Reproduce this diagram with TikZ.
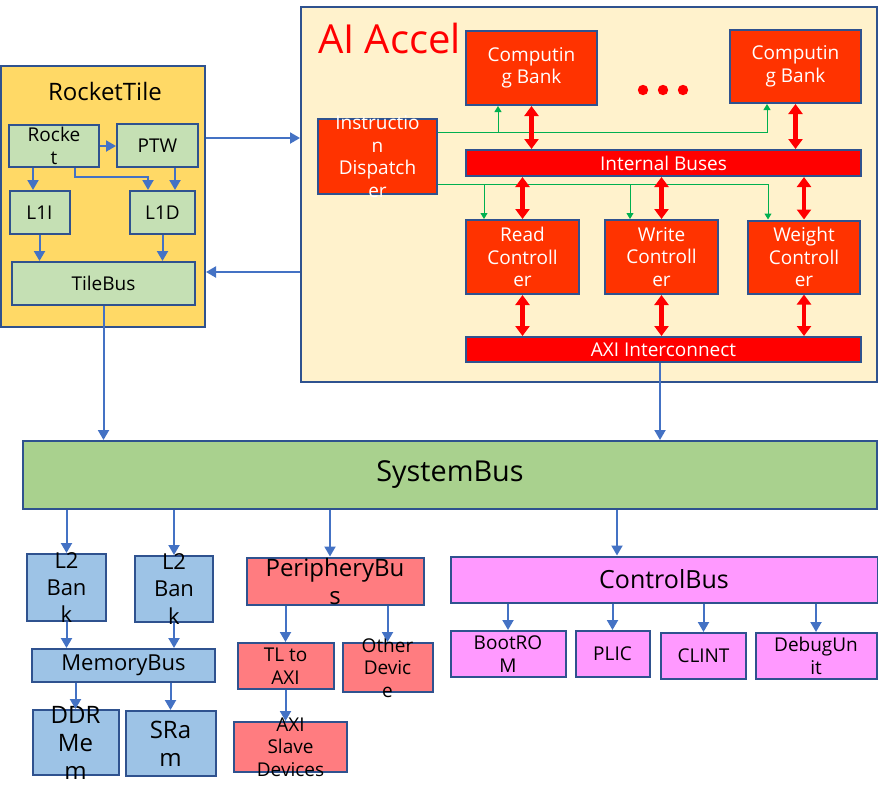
\documentclass[tikz,border=0pt]{standalone}
\usepackage{fontspec}
\setmainfont{Open Sans}
\usetikzlibrary{arrows.meta}
\definecolor{bdr}{HTML}{2F528F}
\definecolor{arrc}{HTML}{4472C4}
\definecolor{grn}{HTML}{00B050}
\definecolor{tilec}{HTML}{FFD966}
\definecolor{lgrn}{HTML}{C5E0B4}
\definecolor{accc}{HTML}{FFF2CC}
\definecolor{orng}{HTML}{FF3300}
\definecolor{sysc}{HTML}{A9D18E}
\definecolor{memc}{HTML}{9DC3E6}
\definecolor{perc}{HTML}{FF7C80}
\definecolor{ctlc}{HTML}{FF99FF}
\newcommand{\ftS}{\fontsize{9.5}{11.3}\selectfont}
\newcommand{\ftM}{\fontsize{11}{13.7}\selectfont}
\newcommand{\ftB}{\fontsize{12}{14}\selectfont}
\newcommand{\ftX}{\fontsize{12.5}{15}\selectfont}
\newcommand{\ftL}{\fontsize{14.4}{17}\selectfont}
\newcommand{\ftH}{\fontsize{20}{24}\selectfont}
\tikzstyle{blk}=[draw=bdr,line width=1pt,inner sep=0pt]
\tikzstyle{arr}=[draw=arrc,line width=1pt,-{Triangle[width=5.5pt,length=5pt]}]
\tikzstyle{garr}=[draw=grn,line width=.5pt,-{Triangle[width=3.5pt,length=3pt]}]
\tikzstyle{rarr}=[draw=red,line width=2.4pt,{Triangle[width=7pt,length=5pt]}-{Triangle[width=7pt,length=5pt]}]
\tikzset{wh/.style 2 args={minimum width=#1*0.5pt,minimum height=#2*0.5pt},
  tx/.style={label={[align=center,font=\ftS]center:#1}},
  wtx/.style={label={[align=center,font=\ftS,text=white]center:#1}},
  mtx/.style={label={[align=center,font=\ftM]center:#1}},
  btx/.style={label={[align=center,font=\ftB]center:#1}}}
\begin{document}
\begin{tikzpicture}[x=.5pt,y=-.5pt]
\useasboundingbox (0,0) rectangle (878,799);
\node[blk,fill=tilec,wh={204}{261}] (rtile) at (103,196.5) {};
\node[font=\ftB] (rtitle) at (105,91) {RocketTile};
\node[blk,fill=lgrn,wh={90}{42},tx={Rocke\\t}] (rocket) at (54,146) {};
\node[blk,fill=lgrn,wh={81}{43},tx={PTW}] (ptw) at (157.5,145.5) {};
\node[blk,fill=lgrn,wh={60}{43},tx={L1I}] (l1i) at (39.5,212.5) {};
\node[blk,fill=lgrn,wh={65}{43},tx={L1D}] (l1d) at (162.5,212.5) {};
\node[blk,fill=lgrn,wh={183}{43},tx={TileBus}] (tbus) at (103.5,283.5) {};

\node[blk,fill=accc,wh={576}{375}] (accel) at (589,194.5) {};
\node[anchor=west,text=red,font=\ftH] (atitle) at (311,38) {AI Accel};
\node[blk,fill=orng,wh={131}{74},wtx={Computin\\g Bank}] (cb1) at (531.5,68) {};
\node[blk,fill=orng,wh={131}{73},wtx={Computin\\g Bank}] (cb2) at (795.5,66.5) {};
\node[blk,fill=orng,wh={119}{75},wtx={Instructio\\n\\Dispatch\\er}] (disp) at (377.5,156.5) {};
\node[blk,fill=red,wh={395}{26},wtx={Internal Buses}] (ibus) at (663.5,163) {};
\node[blk,fill=orng,wh={113}{74},wtx={Read\\Controll\\er}] (rdc) at (522.5,257) {};
\node[blk,fill=orng,wh={113}{74},wtx={Write\\Controll\\er}] (wrc) at (661.5,257) {};
\node[blk,fill=orng,wh={112}{73},wtx={Weight\\Controll\\er}] (wtc) at (804,257) {};
\node[blk,fill=red,wh={395}{25},wtx={AXI Interconnect}] (axi) at (663.5,349.5) {};
\fill[red] (643,90) circle (2.6pt) (663,90) circle (2.6pt) (683,90) circle (2.6pt);

\node[blk,fill=sysc,wh={854}{68},label={[font=\ftL]center:SystemBus}] (sysbus) at (450,475) {};

\node[blk,fill=memc,wh={79}{67},mtx={L2\\Ban\\k}] (l2a) at (66.5,587.5) {};
\node[blk,fill=memc,wh={78}{66},mtx={L2\\Ban\\k}] (l2b) at (174,589) {};
\node[blk,fill=memc,wh={183}{33},mtx={MemoryBus}] (mbus) at (123.5,665.5) {};
\node[blk,fill=memc,wh={86}{65},btx={DDR\\Me\\m}] (ddr) at (75.5,742.5) {};
\node[blk,fill=memc,wh={90}{65},btx={SRa\\m}] (sram) at (170.5,743.5) {};
\node[blk,fill=perc,wh={177}{47},btx={PeripheryBu\\s}] (pbus) at (335,581) {};
\node[blk,fill=perc,wh={96}{46},tx={TL to\\AXI}] (tl) at (285.5,666) {};
\node[blk,fill=perc,wh={90}{49},tx={Other\\Devic\\e}] (odev) at (387.5,667.5) {};
\node[blk,fill=perc,wh={113}{50},tx={AXI\\Slave\\Devices}] (slave) at (290.5,747) {};
\node[blk,fill=ctlc,wh={427}{46},label={[font=\ftX]center:ControlBus}] (cbus) at (664,579.5) {};
\node[blk,fill=ctlc,wh={115}{46},tx={BootRO\\M}] (brom) at (508,654) {};
\node[blk,fill=ctlc,wh={74}{46},tx={PLIC}] (plic) at (612.5,654) {};
\node[blk,fill=ctlc,wh={85}{46},tx={CLINT}] (clint) at (703.5,656) {};
\node[blk,fill=ctlc,wh={121}{46},tx={DebugUn\\it}] (dbg) at (816,656) {};

\draw[arr] (rocket.east) -- (ptw.west |- rocket.east);
\draw[arr] (rocket.south -| 33,0) -- (l1i.north -| 33,0);
\draw[arr] (rocket.south -| 75,0) -- ++(0,9) -| (l1d.north -| 148,0);
\draw[arr] (ptw.south -| 175,0) -- (l1d.north -| 175,0);
\draw[arr] (l1i.south) -- (l1i.south |- tbus.north);
\draw[arr] (l1d.south) -- (l1d.south |- tbus.north);
\draw[arr] (rtile.east |- 0,138) -- (accel.west |- 0,138);
\draw[arr] (accel.west |- 0,272) -- (rtile.east |- 0,272);
\draw[arr] (tbus.south) -- (tbus.south |- sysbus.north);

\draw[garr] (disp.east |- 0,132) -| (498,0 |- cb1.south);
\draw[garr] (disp.east |- 0,132) -| (767,0 |- cb2.south);
\draw[garr] (disp.east |- 0,184) -| (484,0 |- rdc.north);
\draw[garr] (disp.east |- 0,184) -| (630,0 |- wrc.north);
\draw[garr] (disp.east |- 0,184) -| (768,0 |- wtc.north);
\draw[rarr] (cb1.south) -- (cb1.south |- ibus.north);
\draw[rarr] (cb2.south) -- (cb2.south |- ibus.north);
\foreach \n in {rdc,wrc,wtc} {\draw[rarr] (\n.north |- ibus.south) -- (\n.north); \draw[rarr] (\n.south) -- (\n.south |- axi.north);}
\draw[arr] (axi.south -| 660,0) -- (sysbus.north -| 660,0);

\foreach \n in {l2a,l2b} {\draw[arr] (\n.north |- sysbus.south) -- (\n.north); \draw[arr] (\n.south) -- (\n.south |- mbus.north);}
\foreach \n in {ddr,sram} \draw[arr] (\n.north |- mbus.south) -- (\n.north);
\draw[arr] (sysbus.south -| 330,0) -- (pbus.north -| 330,0);
\foreach \n in {tl,odev} \draw[arr] (\n.north |- pbus.south) -- (\n.north);
\draw[arr] (tl.south) -- (tl.south |- slave.north);
\draw[arr] (sysbus.south -| 617,0) -- (cbus.north -| 617,0);
\foreach \n in {brom,plic,clint,dbg} \draw[arr] (\n.north |- cbus.south) -- (\n.north);
\end{tikzpicture}
\end{document}
